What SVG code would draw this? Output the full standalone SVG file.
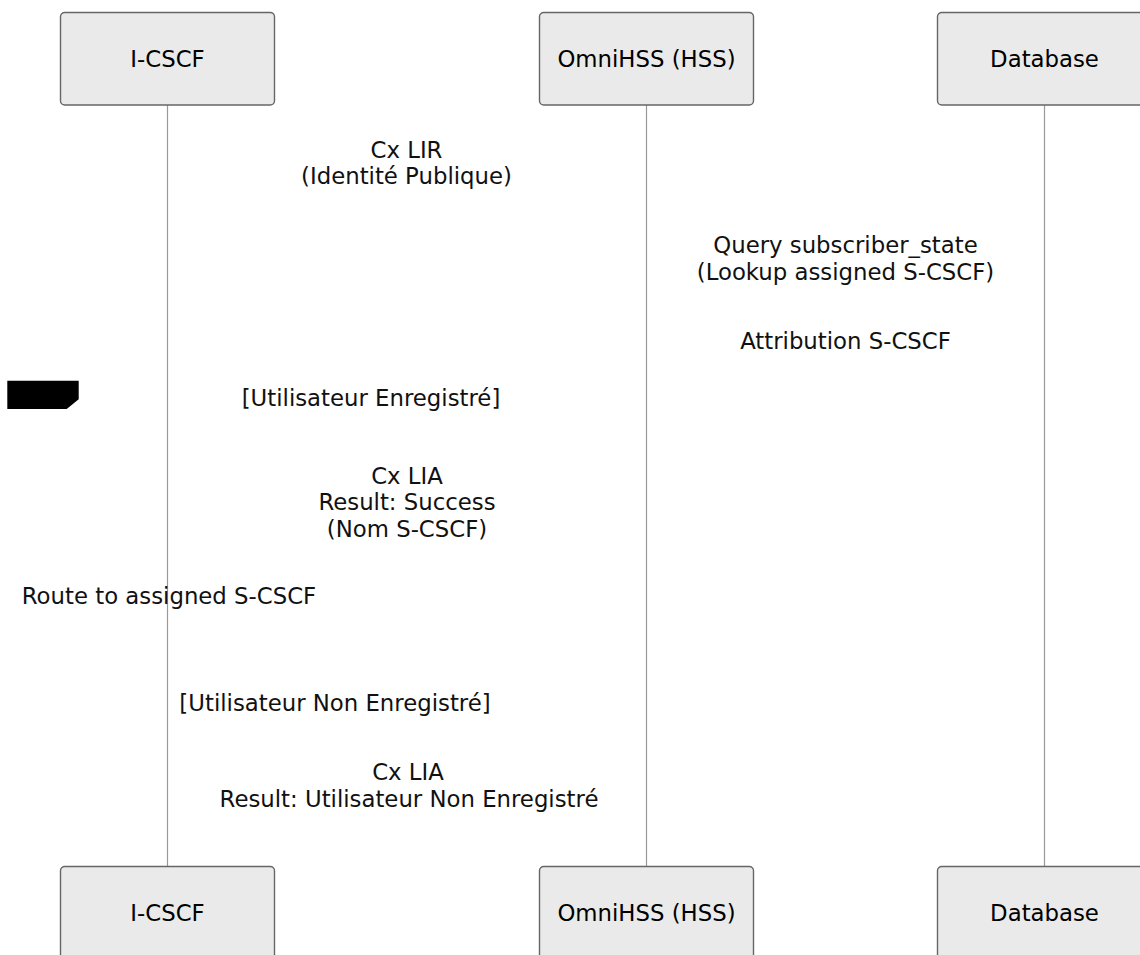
<svg xmlns="http://www.w3.org/2000/svg" width="1140" height="955" viewBox="0 0 1140 955">
<style>
.actor{fill:#eaeaea;stroke:#666;stroke-width:1.4}
.atext{font-family:"DejaVu Sans","Liberation Sans",sans-serif;font-size:22.8px;fill:#000;text-anchor:middle;dominant-baseline:central}
.mtext{font-family:"DejaVu Sans","Liberation Sans",sans-serif;font-size:22.8px;fill:#111;text-anchor:middle}
.life{stroke:#999;stroke-width:1.2;fill:none}
</style>
<rect width="1140" height="955" fill="#fff"/>
<g id="connectors">
<line class="life" x1="167.5" y1="105" x2="167.5" y2="867"/>
<line class="life" x1="646.5" y1="105" x2="646.5" y2="867"/>
<line class="life" x1="1044.5" y1="105" x2="1044.5" y2="867"/>
</g>
<g id="actor-icscf-top"><rect class="actor" x="60.5" y="12.5" width="214" height="92.5" rx="4.3"/><text class="atext" x="167.5" y="59">I-CSCF</text></g>
<g id="actor-hss-top"><rect class="actor" x="539.5" y="12.5" width="214" height="92.5" rx="4.3"/><text class="atext" x="646.5" y="59">OmniHSS (HSS)</text></g>
<g id="actor-db-top"><rect class="actor" x="937.5" y="12.5" width="214" height="92.5" rx="4.3"/><text class="atext" x="1044.5" y="59">Database</text></g>
<g id="actor-icscf-bottom"><rect class="actor" x="60.5" y="866.5" width="214" height="92.5" rx="4.3"/><text class="atext" x="167.5" y="913">I-CSCF</text></g>
<g id="actor-hss-bottom"><rect class="actor" x="539.5" y="866.5" width="214" height="92.5" rx="4.3"/><text class="atext" x="646.5" y="913">OmniHSS (HSS)</text></g>
<g id="actor-db-bottom"><rect class="actor" x="937.5" y="866.5" width="214" height="92.5" rx="4.3"/><text class="atext" x="1044.5" y="913">Database</text></g>
<g id="alt-label"><polygon points="7.3,380.7 78.7,380.7 78.7,399.3 66.7,409 7.3,409" fill="#000"/></g>
<g id="messages">
<text class="mtext" x="406.5" y="157.5">Cx LIR</text>
<text class="mtext" x="406.5" y="184">(Identité Publique)</text>
<text class="mtext" x="845.5" y="252.5">Query subscriber_state</text>
<text class="mtext" x="845.5" y="279.5">(Lookup assigned S-CSCF)</text>
<text class="mtext" x="845.5" y="349">Attribution S-CSCF</text>
<text class="mtext" x="371" y="405.5">[Utilisateur Enregistré]</text>
<text class="mtext" x="407" y="483.5">Cx LIA</text>
<text class="mtext" x="407" y="510">Result: Success</text>
<text class="mtext" x="407" y="537">(Nom S-CSCF)</text>
<text class="mtext" x="169" y="604">Route to assigned S-CSCF</text>
<text class="mtext" x="335" y="711">[Utilisateur Non Enregistré]</text>
<text class="mtext" x="408" y="780">Cx LIA</text>
<text class="mtext" x="409" y="807">Result: Utilisateur Non Enregistré</text>
</g>
</svg>
